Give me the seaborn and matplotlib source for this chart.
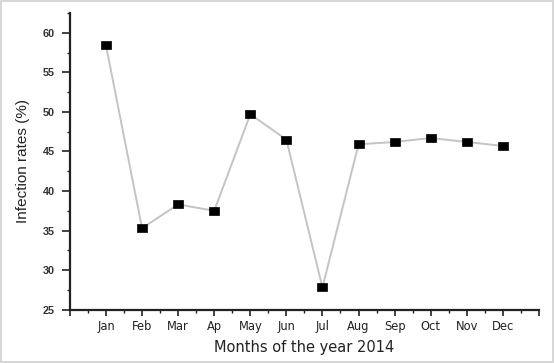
import matplotlib
matplotlib.use("Agg")
import matplotlib.pyplot as plt
import seaborn as sns
import pandas as pd
from matplotlib.ticker import MultipleLocator, FixedLocator
from matplotlib.patches import Rectangle

months = ["Jan", "Feb", "Mar", "Ap", "May", "Jun", "Jul", "Aug", "Sep", "Oct", "Nov", "Dec"]
rates = [58.4, 35.3, 38.3, 37.5, 49.7, 46.5, 27.8, 45.9, 46.2, 46.7, 46.2, 45.7]
positions = list(range(1, 13))

df = pd.DataFrame({"pos": positions, "rate": rates, "month": months})

sns.set_theme(style="ticks")
plt.rcParams["font.family"] = ["Liberation Sans", "DejaVu Sans"]

fig = plt.figure(figsize=(5.55, 3.63), dpi=100)
ax = fig.add_axes([0.126, 0.147, 0.845, 0.817])

wide_rect = [(-1, -0.7), (1, -0.7), (1, 0.7), (-1, 0.7), (-1, -0.7)]
sns.lineplot(data=df, x="pos", y="rate", ax=ax, color="#c4c4c4", linewidth=1.4,
             marker=wide_rect, markersize=7.5, markerfacecolor="black",
             markeredgecolor="black", markeredgewidth=0.5)

ax.set_xlim(0, 13)
ax.set_ylim(25, 62.5)
ax.xaxis.set_major_locator(FixedLocator(list(range(0, 14))))
ax.xaxis.set_minor_locator(MultipleLocator(0.5))
ax.set_xticklabels([""] + months + [""])
ax.yaxis.set_major_locator(MultipleLocator(5))
ax.yaxis.set_minor_locator(MultipleLocator(2.5))

for s in ["top", "right"]:
    ax.spines[s].set_visible(False)
for s in ["left", "bottom"]:
    ax.spines[s].set_linewidth(1.6)
    ax.spines[s].set_color("#222222")

ax.tick_params(axis="x", which="major", direction="out", length=4.5, width=1.2,
               colors="#222222", pad=3)
ax.tick_params(axis="y", which="major", direction="out", length=6, width=1.2,
               colors="#222222", pad=5)
ax.tick_params(axis="both", which="minor", direction="out", length=2.5, width=1.0,
               colors="#222222")
for lab in ax.get_xticklabels():
    lab.set_fontfamily(["DejaVu Sans"])
    lab.set_fontsize(8.3)
    lab.set_color("#222222")
for lab in ax.get_yticklabels():
    lab.set_fontfamily(["Liberation Sans", "DejaVu Sans"])
    lab.set_fontsize(7.8)
    lab.set_fontweight("bold")
    lab.set_color("#333333")

ax.set_xlabel("Months of the year 2014", fontsize=10.5, color="#222222", labelpad=5,
              family=["DejaVu Sans"])
ax.set_ylabel("Infection rates (%)", fontsize=11, color="#222222", labelpad=9,
              family=["Liberation Sans", "DejaVu Sans"])

fig.patches.append(Rectangle((0.002, 0.004), 0.994, 0.992, transform=fig.transFigure,
                             fill=False, edgecolor="#d0d0d0", linewidth=1.2))

fig.savefig("out.png", dpi=100)
